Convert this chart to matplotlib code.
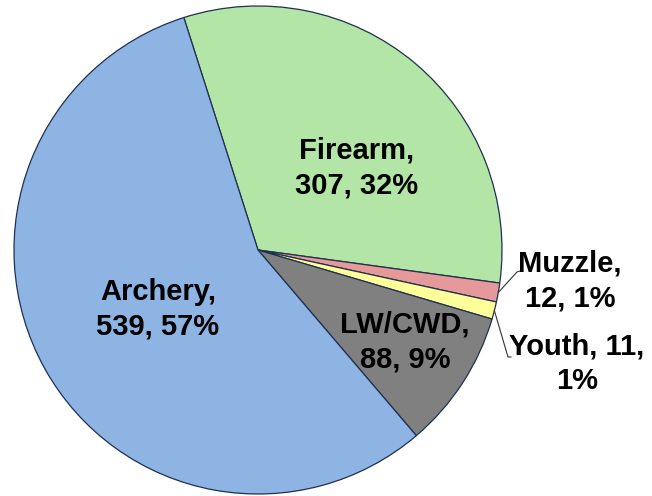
import numpy as np
import matplotlib.pyplot as plt

plt.rcParams['font.family'] = ['Liberation Sans', 'DejaVu Sans']

# harvest by season type
categories = ["Firearm", "Muzzle", "Youth", "LW/CWD", "Archery"]
counts = [307, 12, 11, 88, 539]
pct_labels = ["32%", "1%", "1%", "9%", "57%"]
colors = ["#B3E6A6", "#E6999A", "#FFFF99", "#808080", "#8EB4E3"]

W, H = 652, 496
fig = plt.figure(figsize=(W / 100, H / 100), dpi=100)
ax = fig.add_axes([0, 0, 1, 1])

cx, cy, r = 258, H - 250, 244
start = 107.7
wedges, _ = ax.pie(counts, colors=colors, startangle=start, counterclock=False,
                   center=(cx, cy), radius=r, frame=True,
                   wedgeprops=dict(edgecolor="#1F3050", linewidth=0.9))
ax.set_xlim(0, W)
ax.set_ylim(0, H)
ax.set_aspect("equal")
ax.axis("off")

kw = dict(fontsize=21, fontweight="bold", ha="center", va="center", linespacing=1.3)

# labels inside the big wedges
inside = {"Firearm": (357, 168), "LW/CWD": (405, 342), "Archery": (158, 309)}
for name, n, p in zip(categories, counts, pct_labels):
    if name in inside:
        x, y = inside[name]
        ax.text(x, H - y, f"{name},\n{n}, {p}", **kw)

# small wedges get labels outside with leader lines
def mid_point(i):
    w = wedges[i]
    ang = np.deg2rad((w.theta1 + w.theta2) / 2)
    return cx + r * np.cos(ang), cy + r * np.sin(ang)

mx, my = mid_point(1)
ax.text(570, H - 281, f"{categories[1]},\n{counts[1]}, {pct_labels[1]}", **kw)
ax.plot([mx, 517, 520], [my, H - 272, H - 271], color="#333333", lw=0.8)

yx, yy = mid_point(2)
ax.text(577, H - 364, f"{categories[2]}, {counts[2]},\n{pct_labels[2]}", **kw)
ax.plot([yx, 508, 511], [yy, H - 357, H - 357], color="#333333", lw=0.8)

fig.savefig("out.png", dpi=100)
